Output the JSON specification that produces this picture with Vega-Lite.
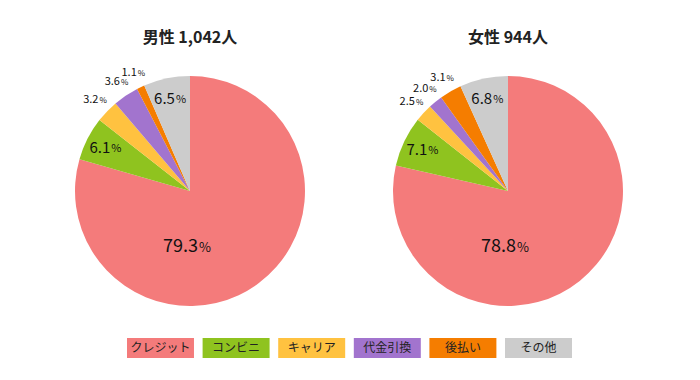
{
  "$schema": "https://vega.github.io/schema/vega-lite/v6.json",
  "autosize": "pad",
  "padding": {"top": 30, "left": 31, "right": 33, "bottom": 20},
  "background": "white",
  "config": {"view": {"stroke": null}, "font": "Noto Sans CJK JP"},
  "datasets": {
    "pie": [
      {"group": "男性 1,042人", "cat": "クレジット", "o": 1, "pct": 79.3},
      {"group": "男性 1,042人", "cat": "コンビニ", "o": 2, "pct": 6.1},
      {"group": "男性 1,042人", "cat": "キャリア", "o": 3, "pct": 3.2},
      {"group": "男性 1,042人", "cat": "代金引換", "o": 4, "pct": 3.6},
      {"group": "男性 1,042人", "cat": "後払い", "o": 5, "pct": 1.1},
      {"group": "男性 1,042人", "cat": "その他", "o": 6, "pct": 6.5},
      {"group": "女性 944人", "cat": "クレジット", "o": 1, "pct": 78.8},
      {"group": "女性 944人", "cat": "コンビニ", "o": 2, "pct": 7.1},
      {"group": "女性 944人", "cat": "キャリア", "o": 3, "pct": 2.5},
      {"group": "女性 944人", "cat": "代金引換", "o": 4, "pct": 2.0},
      {"group": "女性 944人", "cat": "後払い", "o": 5, "pct": 3.1},
      {"group": "女性 944人", "cat": "その他", "o": 6, "pct": 6.8}
    ],
    "legend": [
      {"cat": "クレジット", "o": 1},
      {"cat": "コンビニ", "o": 2},
      {"cat": "キャリア", "o": 3},
      {"cat": "代金引換", "o": 4},
      {"cat": "後払い", "o": 5},
      {"cat": "その他", "o": 6}
    ]
  },
  "vconcat": [
    {
      "data": {"name": "pie"},
      "facet": {
        "column": {
          "field": "group",
          "type": "nominal",
          "sort": ["男性 1,042人", "女性 944人"],
          "header": {"title": null, "labelFontSize": 16, "labelFontWeight": "bold", "labelColor": "#222", "labelPadding": 10, "labelFont": "Noto Sans CJK JP"}
        }
      },
      "spacing": 0,
      "spec": {
        "width": 318,
        "height": 260,
        "layer": [
          {
            "mark": {"type": "arc", "outerRadius": 115},
            "encoding": {
              "theta": {"field": "pct", "type": "quantitative", "stack": true},
              "order": {"field": "o", "type": "quantitative"},
              "color": {
                "field": "cat", "type": "nominal", "legend": null,
                "scale": {
                  "domain": ["クレジット", "コンビニ", "キャリア", "代金引換", "後払い", "その他"],
                  "range": ["#f47b7b", "#8fc31f", "#ffc240", "#a274ce", "#f57d00", "#cccccc"]
                }
              }
            }
          },
          {
            "mark": {"type": "text", "radius": 94, "align": "right", "dx": 4, "baseline": "middle", "fontSize": 15, "color": "#111"},
            "encoding": {
              "theta": {"field": "pct", "type": "quantitative", "stack": true},
              "order": {"field": "o", "type": "quantitative"},
              "text": {"field": "pct", "type": "quantitative", "format": ".1f", "condition": {"test": "datum.pct < 5 || datum.o == 1", "value": ""}}
            }
          },
          {
            "mark": {"type": "text", "radius": 94, "align": "left", "dx": 5, "baseline": "middle", "dy": 1, "fontSize": 11, "color": "#111"},
            "encoding": {
              "theta": {"field": "pct", "type": "quantitative", "stack": true},
              "order": {"field": "o", "type": "quantitative"},
              "text": {"condition": {"test": "datum.pct >= 5 && datum.o != 1", "value": "%"}, "value": ""}
            }
          },
          {
            "mark": {"type": "text", "radius": 131, "align": "right", "dx": 3, "baseline": "middle", "fontSize": 11, "color": "#111"},
            "encoding": {
              "theta": {"field": "pct", "type": "quantitative", "stack": true},
              "order": {"field": "o", "type": "quantitative"},
              "text": {"field": "pct", "type": "quantitative", "format": ".1f", "condition": {"test": "datum.pct >= 5", "value": ""}}
            }
          },
          {
            "mark": {"type": "text", "radius": 131, "align": "left", "dx": 4, "baseline": "middle", "dy": 1, "fontSize": 8, "color": "#111"},
            "encoding": {
              "theta": {"field": "pct", "type": "quantitative", "stack": true},
              "order": {"field": "o", "type": "quantitative"},
              "text": {"condition": {"test": "datum.pct < 5", "value": "%"}, "value": ""}
            }
          },
          {
            "transform": [{"filter": "datum.o == 1"}],
            "mark": {"type": "text", "align": "right", "dx": 8, "dy": 56, "baseline": "middle", "fontSize": 18, "color": "#111"},
            "encoding": {
              "text": {"field": "pct", "type": "quantitative", "format": ".1f"}
            }
          },
          {
            "transform": [{"filter": "datum.o == 1"}],
            "mark": {"type": "text", "align": "left", "dx": 9, "dy": 57, "baseline": "middle", "fontSize": 13, "color": "#111"},
            "encoding": {
              "text": {"value": "%"}
            }
          }
        ]
      }
    },
    {
      "data": {"name": "legend"},
      "width": 636,
      "height": 20,
      "layer": [
        {
          "mark": {"type": "rect"},
          "encoding": {
            "x": {"field": "cat", "type": "nominal", "sort": {"field": "o"}, "axis": null,
                  "scale": {"type": "band", "range": [96, 541], "paddingInner": 0.114, "paddingOuter": 0}},
            "color": {
              "field": "cat", "type": "nominal", "legend": null,
              "scale": {
                "domain": ["クレジット", "コンビニ", "キャリア", "代金引換", "後払い", "その他"],
                "range": ["#f47b7b", "#8fc31f", "#ffc240", "#a274ce", "#f57d00", "#cccccc"]
              }
            }
          }
        },
        {
          "mark": {"type": "text", "fontSize": 12, "color": "#222", "baseline": "middle"},
          "encoding": {
            "x": {"field": "cat", "type": "nominal", "sort": {"field": "o"}, "axis": null},
            "text": {"field": "cat"}
          }
        }
      ]
    }
  ],
  "spacing": 17
}
